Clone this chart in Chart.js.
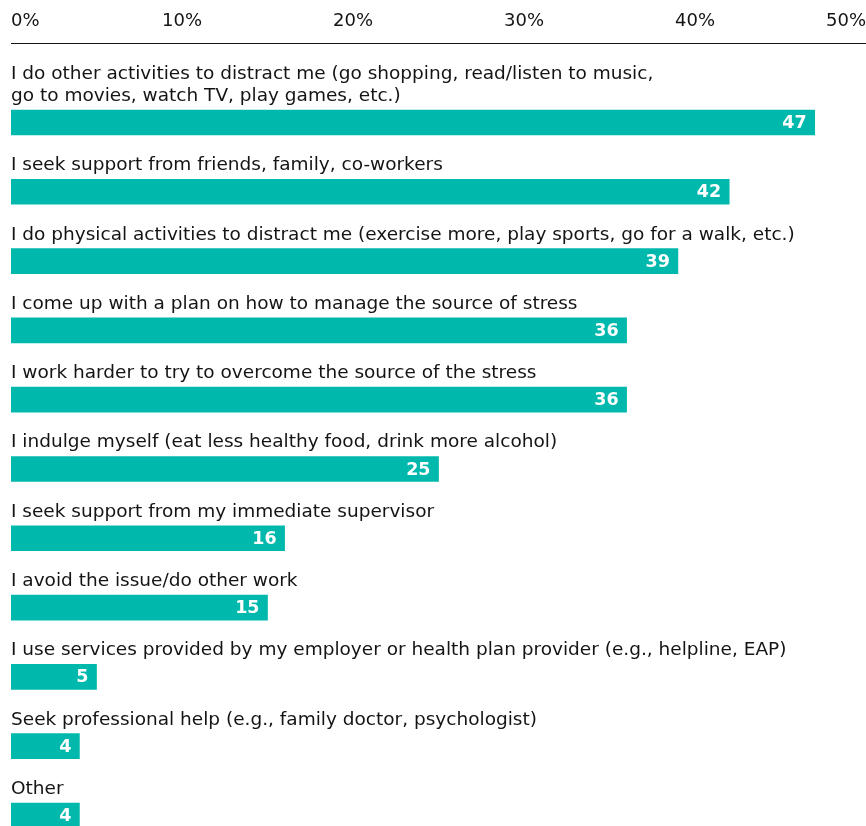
<!DOCTYPE html>
<html>
<head>
<meta charset="utf-8">
<script src="https://cdn.jsdelivr.net/npm/chart.js@4"></script>
<style>
  html, body { margin: 0; padding: 0; background: #fff; overflow: hidden; }
  #wrap { width: 866px; height: 826px; position: relative; }
</style>
</head>
<body>
<div id="wrap"><canvas id="copingChart"></canvas></div>
<script>
// coping strategies, share of respondents (%)
const strategies = [
  ["I do other activities to distract me (go shopping, read/listen to music,",
   "go to movies, watch TV, play games, etc.)"],
  "I seek support from friends, family, co-workers",
  "I do physical activities to distract me (exercise more, play sports, go for a walk, etc.)",
  "I come up with a plan on how to manage the source of stress",
  "I work harder to try to overcome the source of the stress",
  "I indulge myself (eat less healthy food, drink more alcohol)",
  "I seek support from my immediate supervisor",
  "I avoid the issue/do other work",
  "I use services provided by my employer or health plan provider (e.g., helpline, EAP)",
  "Seek professional help (e.g., family doctor, psychologist)",
  "Other",
];
const shares = [47, 42, 39, 36, 36, 25, 16, 15, 5, 4, 4];
const tickValues = [0, 10, 20, 30, 40, 50];

const TEAL = "#00b8ac";
const INK = "#141414";
const FONT = "'DejaVu Sans', sans-serif";

// category text above each bar + value inside the bar end
const barLabels = {
  id: "barLabels",
  afterDatasetsDraw(chart) {
    const { ctx } = chart;
    const meta = chart.getDatasetMeta(0);
    ctx.save();
    meta.data.forEach((bar, i) => {
      const top = bar.y - bar.height / 2;
      const lines = [].concat(strategies[i]);
      ctx.fillStyle = INK;
      ctx.font = "18.5px " + FONT;
      ctx.textAlign = "left";
      ctx.textBaseline = "alphabetic";
      lines.forEach((line, k) => {
        const y = top - 9 - (lines.length - 1 - k) * 22;
        ctx.fillText(line, chart.chartArea.left, y);
      });
      ctx.fillStyle = "#fff";
      ctx.font = "bold 17.5px " + FONT;
      ctx.textAlign = "right";
      ctx.textBaseline = "middle";
      ctx.fillText(String(shares[i]), bar.x - 8, bar.y + 1);
    });
    ctx.restore();
  },
};

new Chart(document.getElementById("copingChart"), {
  type: "bar",
  data: {
    datasets: [{
      data: shares.map((v, i) => ({ x: v, y: i })),
      backgroundColor: TEAL,
      barThickness: 25,
      borderWidth: 0,
    }],
  },
  options: {
    indexAxis: "y",
    responsive: true,
    maintainAspectRatio: false,
    animation: false,
    layout: { padding: { left: 11, right: 0, top: 0, bottom: 0 } },
    scales: {
      x: {
        type: "linear",
        position: "top",
        min: 0,
        max: 50,
        afterBuildTicks: (scale) => {
          scale.ticks = tickValues.map((v) => ({ value: v }));
        },
        afterFit: (scale) => {
          scale.height = 43;
        },
        grid: { display: false, drawTicks: false },
        border: { display: true, color: INK, width: 1 },
        ticks: {
          align: "inner",
          padding: 0,
          color: INK,
          font: { family: FONT, size: 18, lineHeight: "44px" },
          callback: (v) => v + "%",
        },
      },
      y: {
        type: "linear",
        reverse: true,
        offset: false,
        min: -1.147,
        max: 10.152,
        display: false,
      },
    },
    plugins: {
      legend: { display: false },
      tooltip: { enabled: false },
    },
  },
  plugins: [barLabels],
});
</script>
</body>
</html>
